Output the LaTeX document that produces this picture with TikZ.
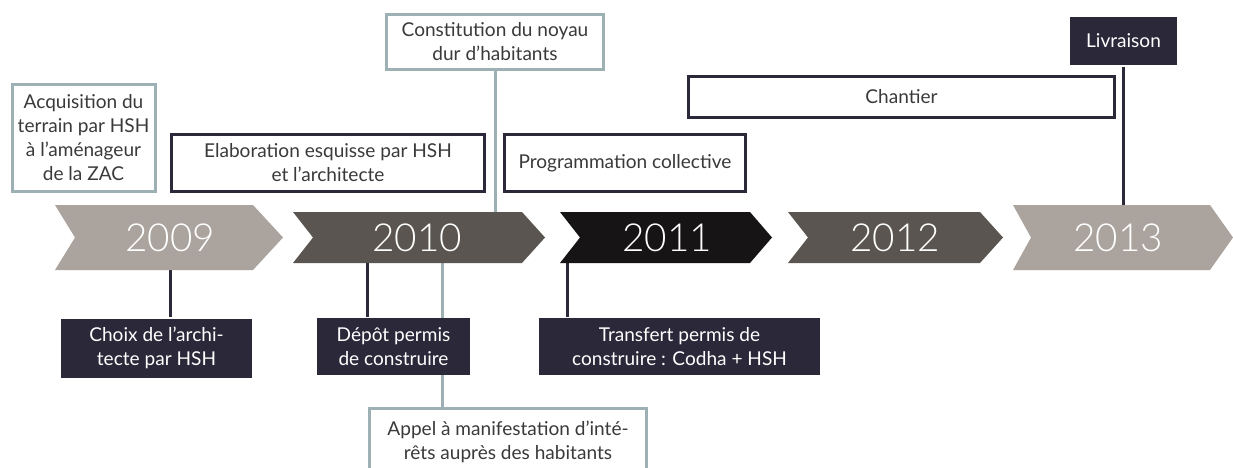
\documentclass[tikz,border=0pt]{standalone}
\usepackage{fontspec}
\setmainfont{Lato}[UprightFont={* Light}]
\newfontfamily\boxfont{Lato}
\definecolor{taupe}{HTML}{ABA49E}
\definecolor{dgray}{HTML}{5A5550}
\definecolor{blk}{HTML}{161414}
\definecolor{navy}{HTML}{2A2839}
\definecolor{lightb}{HTML}{9DB0B4}
\definecolor{txt}{HTML}{3A3A3A}
\pgfdeclarelayer{bg}
\pgfsetlayers{bg,main}
\tikzset{
  sz/.style 2 args={minimum width=#1*0.75pt, minimum height=#2*0.75pt},
  basebox/.style={rectangle, inner sep=0pt, align=center, line width=2.25pt,
    font=\boxfont\fontsize{14.3}{18}\selectfont},
  lightbox/.style={basebox, draw=lightb, fill=white, text=txt},
  darkbox/.style={basebox, draw=navy, fill=white, text=txt},
  fillbox/.style={basebox, fill=navy, text=white},
  yearnode/.style={rectangle, inner sep=0pt, text=white, font=\fontsize{29}{29}\selectfont},
  lightline/.style={draw=lightb, line width=2.25pt},
  navyline/.style={draw=navy, line width=2.25pt},
}
\begin{document}
\begin{tikzpicture}[x=0.75pt,y=-0.75pt]
\clip (0,0) rectangle (1233,468);
% chevrons
\fill[taupe] (55,205) -- (253,205) -- (283,237.5) -- (253,270) -- (55,270) -- (75,237.5) -- cycle;
\fill[dgray] (293,212) -- (522,212) -- (545,237.5) -- (522,263) -- (293,263) -- (313,237.5) -- cycle;
\fill[blk] (560,212) -- (750,212) -- (772,237.5) -- (750,263) -- (560,263) -- (580,237.5) -- cycle;
\fill[dgray] (788,212) -- (980,212) -- (1003,237.5) -- (980,263) -- (788,263) -- (808,237.5) -- cycle;
\fill[taupe] (1013,205) -- (1210,205) -- (1233,237.5) -- (1210,270) -- (1013,270) -- (1031,237.5) -- cycle;
% year labels
\node[yearnode, sz={228}{65}] (y2009) at (170,237.5) {2009};
\node[yearnode, sz={252}{51}] (y2010) at (417,237.5) {2010};
\node[yearnode, sz={212}{51}] (y2011) at (667,237.5) {2011};
\node[yearnode, sz={215}{51}] (y2012) at (895,237.5) {2012};
\node[yearnode, sz={200}{65}] (y2013) at (1118,237.5) {2013};
% upper boxes
\node[lightbox, sz={143}{107}] (acq) at (83.5,138) {Acquisition du\\terrain par HSH\\à l’aménageur\\de la ZAC};
\node[darkbox, sz={313}{57}] (elab) at (328,163) {Elaboration esquisse par HSH\\et l’architecte};
\node[darkbox, sz={241}{57}] (prog) at (625,163) {Programmation collective};
\node[lightbox, sz={217}{55}] (const) at (495,42) {Constitution du noyau\\dur d’habitants};
\node[darkbox, sz={426}{41}] (chant) at (901.5,96.5) {Chantier};
\node[fillbox, sz={107}{48}] (livr) at (1123.5,41) {Livraison};
% lower boxes
\node[fillbox, sz={191}{59}] (choix) at (156.5,348) {Choix de l’archi-\\tecte par HSH};
\node[fillbox, sz={153}{57}] (depot) at (393.5,346.5) {Dépôt permis\\de construire};
\node[fillbox, sz={281}{57}] (transf) at (679.5,346.5) {Transfert permis de\\construire : Codha + HSH};
\node[lightbox, sz={277}{66}] (appel) at (508,441.5) {Appel à manifestation d’inté-\\rêts auprès des habitants};
% connectors
\coordinate (k1) at (170,0);
\coordinate (k2) at (367,0);
\coordinate (k3) at (442,0);
\coordinate (k4) at (567,0);
\begin{pgfonlayer}{bg}
\fill[white] (0,0) rectangle (1233,468);
\draw[navyline] (k1 |- y2009.south) -- (k1 |- choix.north);
\draw[navyline] (k2 |- y2010.south) -- (k2 |- depot.north);
\draw[lightline] (k3 |- y2010.south) -- (k3 |- appel.north);
\draw[navyline] (k4 |- y2011.south) -- (k4 |- transf.north);
\draw[lightline] (const.south) -- (const.south |- y2010.north);
\draw[navyline] (livr.south) -- (livr.south |- y2013.north);
\end{pgfonlayer}
\end{tikzpicture}
\end{document}
